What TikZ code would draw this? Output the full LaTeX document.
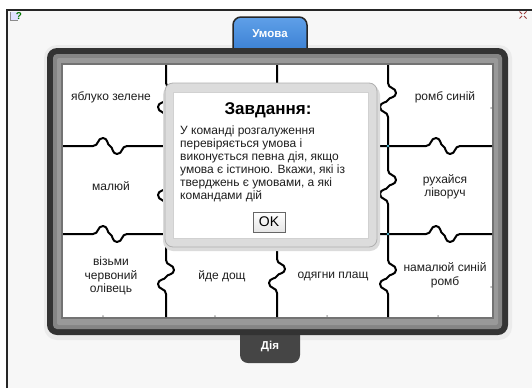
\documentclass[tikz,border=0pt]{standalone}
\usepackage{fontspec}
\setmainfont{Liberation Sans}
\definecolor{bgc}{HTML}{F7F7F7}
\definecolor{paneldark}{HTML}{333333}
\definecolor{panelgray}{HTML}{858585}
\definecolor{tabblue}{HTML}{3A7FD3}
\definecolor{tabbluetop}{HTML}{5FA0E8}
\definecolor{txt}{HTML}{1E1E1E}
\definecolor{dlgborder}{HTML}{DCDCDC}
\definecolor{dlgline}{HTML}{B0B0B0}
\definecolor{dotcyan}{HTML}{4FB8D0}
\definecolor{iconred}{HTML}{9A3A3A}
\newcommand\vwv[2]{-- (#1,#2-17) .. controls (#1,#2-11) and (#1+8,#2-13) .. (#1+8,#2-7) .. controls (#1+8,#2-2) and (#1+1,#2-3) .. (#1,#2) .. controls (#1-1,#2+3) and (#1-8,#2+2) .. (#1-8,#2+7) .. controls (#1-8,#2+13) and (#1,#2+11) .. (#1,#2+17)}
\newcommand\hwv[2]{-- (#1-17,#2) .. controls (#1-11,#2) and (#1-13,#2-8) .. (#1-7,#2-8) .. controls (#1-2,#2-8) and (#1-3,#2-1) .. (#1,#2) .. controls (#1+3,#2+1) and (#1+2,#2+8) .. (#1+7,#2+8) .. controls (#1+13,#2+8) and (#1+11,#2) .. (#1+17,#2)}
\begin{document}
\begin{tikzpicture}[x=1pt,y=-1pt,
  celltext/.style={font=\fontsize{12}{13.5}\selectfont, text=txt, align=center, inner sep=0},
  piece/.style={line width=2, black, line join=round},
  tabtext/.style={font=\bfseries\fontsize{11.5}{13}\selectfont, text=white},
  tickmark/.style={fill=black!35}]
\useasboundingbox (0,0) rectangle (532,388);
\fill[white] (0,0) rectangle (532,388);
\fill[bgc] (7,10) rectangle (532,388);
\draw[line width=1.8, black!85] (7,388) -- (7,10) -- (532,10);
% icons
\fill[blue!12] (10,12) rectangle (19,20);
\draw[black!45, line width=0.5] (10,12) -- (10,20) -- (18,20);
\node[font=\bfseries\fontsize{10}{10}\selectfont, text=green!45!black, inner sep=0] (help) at (19,16) {?};
\coordinate (ex) at (523,15);
\draw[iconred, line width=1] (519.5,11.5) -- (522,14) (526.5,11.5) -- (524,14) (519.5,18.5) -- (522,16) (526.5,18.5) -- (524,16);
% panel shadow
\fill[black!8, rounded corners=13] (44,45) rectangle (512,340);
% tabs
\draw[top color=tabbluetop, bottom color=tabblue, draw=black!85, line width=1.5, rounded corners=8] (233,52) -- (233,17) -- (307,17) -- (307,52);
\node[tabtext] (cond) at (270,34) {Умова};
\fill[black!73, rounded corners=8] (240,320) -- (240,363) -- (300,363) -- (300,320) -- cycle;
% panel
\fill[paneldark, rounded corners=10] (47,48) rectangle (508,335);
\fill[panelgray, rounded corners=4] (53,54) rectangle (502,329);
\fill[black!40, rounded corners=2] (57,58) rectangle (498,325);
\fill[black!55] (61,63) rectangle (494,319);
\fill[white] (63,65) rectangle (492,317);
\node[tabtext] (act) at (270,346) {Дія};
% puzzle lines
\draw[piece] (166,65) \vwv{166}{100} \vwv{166}{188} \vwv{166}{277} -- (166,317);
\draw[piece] (277,65) \vwv{277}{100} \vwv{277}{188} \vwv{277}{276} -- (277,317);
\draw[piece] (388,65) \vwv{388}{100} \vwv{388}{187} \vwv{388}{277} -- (388,317);
\draw[piece] (63,146) \hwv{110}{146} -- (388,146) \hwv{443}{146} -- (492,146);
\draw[piece] (63,234) \hwv{110}{234} -- (388,234) \hwv{443}{234} -- (492,234);
\fill[dotcyan] (388,146) circle (1.3);
\fill[dotcyan] (388,234) circle (1.3);
\foreach \tx in {103,215,327,438} \fill[tickmark] (\tx,316) circle (1);
\fill[tickmark] (491,108) circle (1);
\fill[tickmark] (491,287) circle (1);
% cells
\node[celltext] (c11) at (111,97) {яблуко зелене};
\node[celltext] (c14) at (445,97) {ромб синій};
\node[celltext] (c21) at (111,186) {малюй};
\node[celltext] (c24) at (445,187) {рухайся\\ліворуч};
\node[celltext] (c31) at (111,276) {візьми\\червоний\\олівець};
\node[celltext] (c32) at (222,276) {йде дощ};
\node[celltext] (c33) at (333,276) {одягни плащ};
\node[celltext] (c34) at (445,275.5) {намалюй синій\\ромб};
% dialog
\fill[black!14, rounded corners=10] (163,85) rectangle (380,251);
\draw[fill=dlgborder, draw=dlgline, line width=0.8, rounded corners=8] (165,83) rectangle (377,247);
\draw[fill=white, draw=black!18, line width=0.6] (173,92) rectangle (368,238);
\node[font=\bfseries\fontsize{17}{20}\selectfont, text=black] (title) at (268,110) {Завдання:};
\node[anchor=north west, inner sep=0, align=left, font=\fontsize{12}{13}\selectfont, text=txt] (body) at (180,125.5) {У команді розгалуження\\перевіряється умова і\\виконується певна дія, якщо\\умова є істиною. Вкажи, які із\\тверджень є умовами, а які\\командами дій};
\node[draw=black!60, top color=white, bottom color=black!10, font=\fontsize{14}{14}\selectfont, minimum width=32, minimum height=20, inner sep=0] (ok) at (269,222) {OK};
\end{tikzpicture}
\end{document}
